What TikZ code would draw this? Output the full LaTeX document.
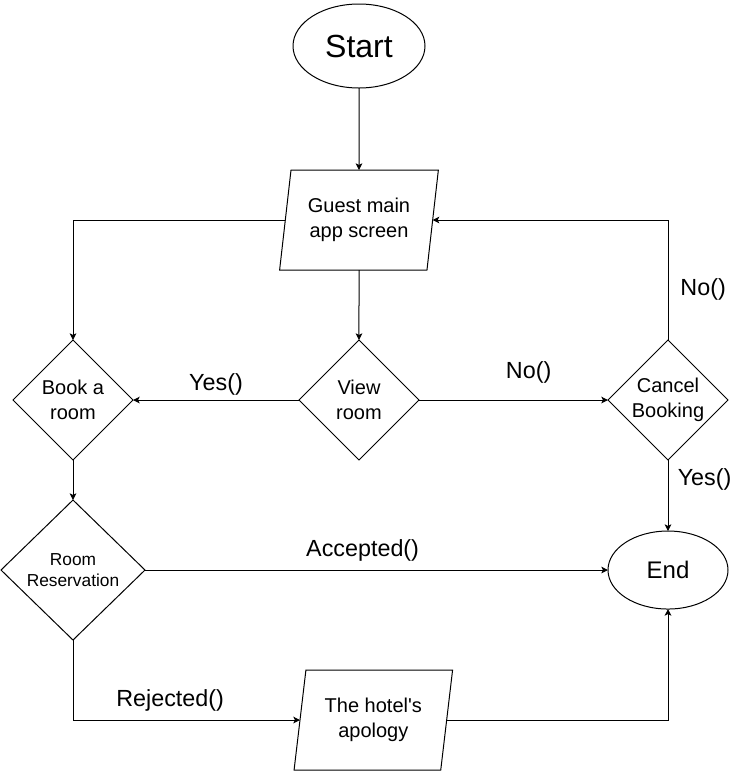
\documentclass[tikz,border=0pt]{standalone}
\usepackage{fontspec}
\setmainfont{Liberation Sans}
\usetikzlibrary{arrows.meta, positioning, shapes.geometric}

\begin{document}
\begin{tikzpicture}[
    > = {Stealth[length=5pt, width=5pt, inset=1.2pt]}, % arrow head style
    line width = 0.75pt, % line style
    auto,
    node distance = 50pt, % distance between nodes
    every node/.style={outer sep=0pt},
    terminal/.style={ellipse, draw, inner sep=0pt},
    io/.style={trapezium, trapezium left angle=80, trapezium right angle=100,
      trapezium stretches=true, draw, minimum width=120pt, minimum height=75pt,
      align=center, font=\fontsize{15}{19}\selectfont},
    decision/.style={diamond, draw, inner sep=0pt, minimum width=90pt,
      minimum height=90pt, align=center, font=\fontsize{15}{19}\selectfont},
    lbl/.style={font=\fontsize{17.5}{21}\selectfont}
  ]

  \useasboundingbox (0,0) rectangle (558pt,-579pt);

  \node[terminal, minimum width=99pt, minimum height=63pt,
    font=\fontsize{24}{28}\selectfont] (start) at (269.25pt,-34.5pt) {Start};
  \node[io] (guest) [below = 61.5pt of start] {Guest main\\app screen};
  \node[decision] (view) [below = 52.5pt of guest] {View\\room};
  \node[decision] (book) [left = 124.5pt of view] {Book a\\room};
  \node[decision] (cancel) [right = 141.75pt of view] {Cancel\\Booking};
  \node[decision, minimum width=108pt, minimum height=105pt,
    font=\fontsize{13}{16}\selectfont] (res) [below = 30pt of book] {Room\\Reservation};
  \node[terminal, minimum width=90pt, minimum height=58.5pt,
    font=\fontsize{18}{22}\selectfont] (end) [below = 53.25pt of cancel] {End};
  \node[io] (apology) [right = 116.25pt of res, yshift = -112.5pt] {The hotel\textquotesingle s\\apology};

  \draw[->] (start) -- (guest);
  \draw[->] (guest) -| (book);
  \draw[->] (guest) -- (view);
  \draw[->] (cancel) |- node[lbl, right = 6pt, pos = 0.21] {No()} (guest);
  \draw[->] (view) -- node[lbl, above, pos = 0.5] {Yes()} (book);
  \draw[->] (view) -- node[lbl, above = 9pt, pos = 0.58] {No()} (cancel);
  \draw[->] (cancel) -- node[lbl, right = 4pt, pos = 0.28] {Yes()} (end);
  \draw[->] (book) -- (res);
  \draw[->] (res) -- node[lbl, above = 3pt, pos = 0.47] {Accepted()} (end);
  \draw[->] (res) |- node[lbl, above = 3pt, pos = 0.714] {Rejected()} (apology);
  \draw[->] (apology) -| (end);
\end{tikzpicture}
\end{document}
